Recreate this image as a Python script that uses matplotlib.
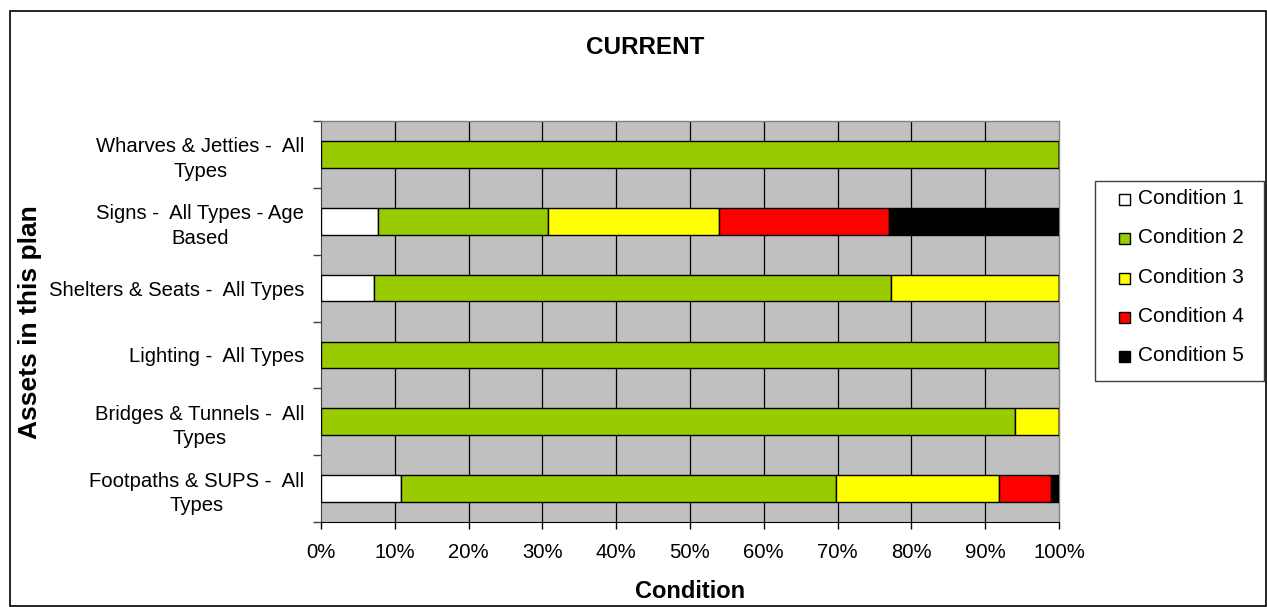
import matplotlib
matplotlib.use("Agg")
import matplotlib.pyplot as plt
from matplotlib.patches import Rectangle
import numpy as np

plt.rcParams['font.family'] = ['Liberation Sans', 'DejaVu Sans']

# Asset groups, bottom to top
assets = [
    "Footpaths & SUPS -  All\nTypes",
    "Bridges & Tunnels -  All\nTypes",
    "Lighting -  All Types",
    "Shelters & Seats -  All Types",
    "Signs -  All Types - Age\nBased",
    "Wharves & Jetties -  All\nTypes",
]

series_names = ["Condition 1", "Condition 2", "Condition 3", "Condition 4", "Condition 5"]
series_colors = ["#FFFFFF", "#99CC00", "#FFFF00", "#FF0000", "#000000"]

# Share of each asset group in each condition (%)
condition_1 = [10.8, 0.0, 0.0, 7.2, 7.7, 0.0]
condition_2 = [59.0, 94.0, 100.0, 70.1, 23.1, 100.0]
condition_3 = [22.1, 6.0, 0.0, 22.7, 23.1, 0.0]
condition_4 = [7.0, 0.0, 0.0, 0.0, 23.0, 0.0]
condition_5 = [1.1, 0.0, 0.0, 0.0, 23.1, 0.0]

x_ticks = [0, 10, 20, 30, 40, 50, 60, 70, 80, 90, 100]
x_tick_labels = [f"{v}%" for v in x_ticks]

W, H = 1267, 607
fig = plt.figure(figsize=(W / 100, H / 100), dpi=100)
fig.patch.set_facecolor("white")

ax = fig.add_axes([321 / W, 1 - 522 / H, (1059 - 321) / W, (522 - 121) / H])
ax.set_facecolor("#C0C0C0")

values = [condition_1, condition_2, condition_3, condition_4, condition_5]
y = np.arange(len(assets))
left = np.zeros(len(assets))
for vals, color in zip(values, series_colors):
    vals = np.asarray(vals)
    ax.barh(y, vals, left=left, height=0.4, color=color, edgecolor="black",
            linewidth=1.0, zorder=3)
    left += vals

ax.set_xlim(0, 100)
ax.set_ylim(-0.5, len(assets) - 0.5)

# vertical gridlines
for v in x_ticks[1:-1]:
    ax.axvline(v, color="black", linewidth=0.9, zorder=1)

ax.set_xticks(x_ticks)
ax.set_xticklabels(x_tick_labels, fontsize=14.6)
ax.tick_params(axis="x", direction="out", length=5, width=1, pad=10, colors="black")

# category ticks at boundaries, labels at centres
ax.set_yticks(np.arange(-0.5, len(assets), 1.0))
ax.set_yticklabels([])
ax.tick_params(axis="y", which="major", direction="out", length=6, width=1, color="#404040")
ax.set_yticks(y, minor=True)
ax.set_yticklabels(assets, minor=True, fontsize=14.6, ha="right",
                   multialignment="center", linespacing=1.38)
ax.tick_params(axis="y", which="minor", length=0, pad=12)

for side in ["top", "right"]:
    ax.spines[side].set_color("#808080")
    ax.spines[side].set_linewidth(1.0)
ax.spines["left"].set_color("#404040")
ax.spines["bottom"].set_color("black")

def fx(px):
    return px / W

def fy(py):
    return 1 - py / H

fig.text(fx(645), fy(47), "CURRENT", fontsize=17.5, fontweight="bold",
         ha="center", va="center")
fig.text(fx(690), fy(592), "Condition", fontsize=17, fontweight="bold",
         ha="center", va="center")
fig.text(fx(30), fy(322), "Assets in this plan", fontsize=19, fontweight="bold",
         ha="center", va="center", rotation=90)

# legend
fig.patches.append(Rectangle((fx(1094.5), fy(380.5)), (1264 - 1094.5) / W, (380.5 - 180.5) / H,
                             transform=fig.transFigure, facecolor="white",
                             edgecolor="#404040", linewidth=1.0))
for i, (name, color) in enumerate(zip(series_names, series_colors)):
    cy = 199.5 + 39.3 * i
    fig.patches.append(Rectangle((fx(1118.5), fy(cy + 5.5)), 11 / W, 11 / H,
                                 transform=fig.transFigure, facecolor=color,
                                 edgecolor="black", linewidth=1.0))
    fig.text(fx(1138.5), fy(cy - 1), name, fontsize=15, ha="left", va="center")

# outer chart border
fig.patches.append(Rectangle((fx(9.5), fy(605.5)), (1265.5 - 9.5) / W, (605.5 - 10.5) / H,
                             transform=fig.transFigure, fill=False,
                             edgecolor="black", linewidth=1.2))

fig.savefig("out.png", dpi=100)
